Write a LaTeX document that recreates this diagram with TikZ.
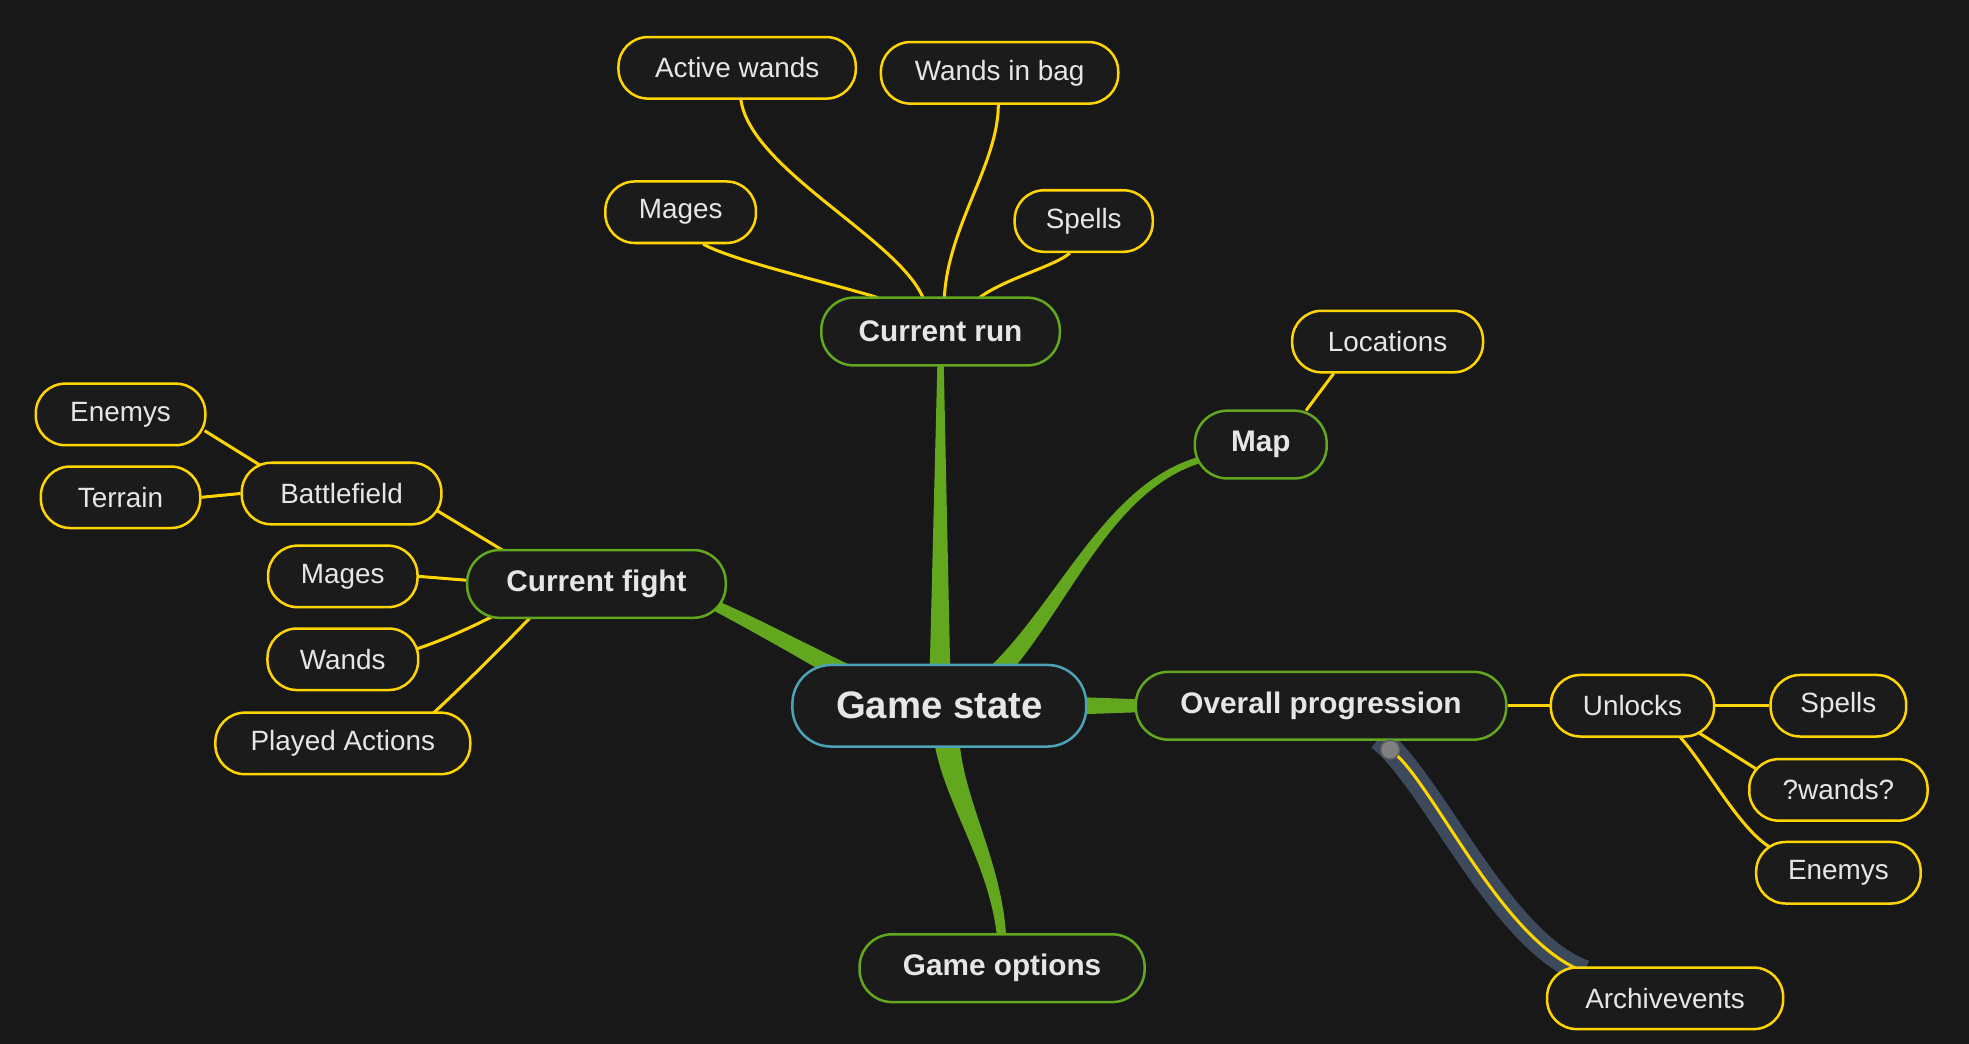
\documentclass[tikz,border=0pt]{standalone}
\usepackage{fontspec}
\setmainfont{Liberation Sans}
\usetikzlibrary{calc}
\definecolor{bgc}{HTML}{181818}
\definecolor{nodefill}{HTML}{1B1B1B}
\definecolor{txt}{HTML}{E6E6E6}
\definecolor{teal}{HTML}{4CA2B6}
\definecolor{grn}{HTML}{62A71E}
\definecolor{ylw}{HTML}{FFD500}
\definecolor{band}{HTML}{3D4A5B}
\definecolor{dotc}{HTML}{808080}
\definecolor{dotb}{HTML}{5E5E5E}
\pgfdeclarelayer{bglayer}
\pgfdeclarelayer{linklayer}
\pgfsetlayers{bglayer,linklayer,main}
\begin{document}
\begin{tikzpicture}[x=1pt,y=-1pt,
  base/.style={draw, fill=nodefill, text=txt, inner sep=0pt, line width=2pt},
  rootnode/.style={base, draw=teal, rounded corners=31pt, minimum height=65pt, font=\fontsize{30.5}{34}\selectfont\bfseries},
  lone/.style={base, draw=grn, rounded corners=26pt, minimum height=54pt, font=\fontsize{23.7}{27}\selectfont\bfseries},
  ltwo/.style={base, draw=ylw, rounded corners=23.5pt, minimum height=49pt, font=\fontsize{22.2}{25}\selectfont},
  yline/.style={draw=ylw, line width=2.4pt},
  branch/.style={fill=grn},
]
\begin{pgfonlayer}{bglayer}
\fill[bgc] (0,0) rectangle (1568,831);
\end{pgfonlayer}
\useasboundingbox (0,0) rectangle (1568,831);

% ---- nodes ----
\node[rootnode, minimum width=234pt] (root) at (748,562) {Game state};
\node[lone, minimum width=190pt] (cr) at (749,264) {Current run};
\node[lone, minimum width=105pt] (map) at (1004,354) {Map};
\node[lone, minimum width=206pt] (cf) at (475,465) {Current fight};
\node[lone, minimum width=295pt] (op) at (1052,562) {Overall progression};
\node[lone, minimum width=227pt] (go) at (798,771) {Game options};

\node[ltwo, minimum width=120pt] (m1) at (542,169) {Mages};
\node[ltwo, minimum width=189pt] (aw) at (587,54) {Active wands};
\node[ltwo, minimum width=189pt] (wb) at (796,58) {Wands in bag};
\node[ltwo, minimum width=110pt] (sp1) at (863,176) {Spells};
\node[ltwo, minimum width=152pt] (loc) at (1105,272) {Locations};
\node[ltwo, minimum width=130pt] (unl) at (1300,562) {Unlocks};
\node[ltwo, minimum width=108pt] (sp2) at (1464,562) {Spells};
\node[ltwo, minimum width=142pt] (qw) at (1464,629) {?wands?};
\node[ltwo, minimum width=131pt] (en2) at (1464,695) {Enemys};
\node[ltwo, minimum width=188pt] (arc) at (1326,795) {Archivevents};
\node[ltwo, minimum width=159pt] (bf) at (272,393) {Battlefield};
\node[ltwo, minimum width=135pt] (en1) at (96,330) {Enemys};
\node[ltwo, minimum width=127pt] (ter) at (96,396) {Terrain};
\node[ltwo, minimum width=119pt] (m2) at (273,459) {Mages};
\node[ltwo, minimum width=120pt] (wd) at (273,525) {Wands};
\node[ltwo, minimum width=203pt] (pa) at (273,592) {Played Actions};

\node[circle, fill=dotc, draw=dotb, line width=1pt, minimum size=15pt, inner sep=0pt] (dot) at ($(op)+(55,35)$) {};

\begin{pgfonlayer}{linklayer}
% root -> current run
\fill[branch] ($(root)+(-8,-14)$) -- ($(cr)+(-2.5,24)$) -- ($(cr)+(2.5,24)$) -- ($(root)+(9,-14)$) -- cycle;
% root -> map
\fill[branch] ($(root)+(42.4,-11.2)$) .. controls (848.4,494.7) and (880.9,388.4) .. ($(map)+(-43.35,13.4)$)
  -- ($(map)+(-44.65,8.6)$) .. controls (879.1,381.6) and (841.6,485.3) .. ($(root)+(31.6,-22.8)$) -- cycle;
% root -> current fight
\fill[branch] ($(root)+(-64,-29)$) .. controls (640,512) and (605,493) .. ($(cf)+(91.6,11.4)$)
  -- ($(cf)+(88.4,18.6)$) .. controls (600,503) and (635,523) .. ($(root)+(-72,-15)$) -- cycle;
% root -> overall progression
\fill[branch] ($(root)+(107,-7)$) -- ($(op)+(-140,-5)$) -- ($(op)+(-140,5)$) -- ($(root)+(107,7)$) -- cycle;
% root -> game options
\fill[branch] ($(root)+(15.9,26.4)$) .. controls (767.4,638.8) and (800,689.75) .. ($(go)+(3.5,-19)$)
  -- ($(go)+(-3.5,-19)$) .. controls (790,690.25) and (752.6,641.2) .. ($(root)+(-3.9,29.6)$) -- cycle;

% archivevents band
\draw[band, line width=19pt] ($(op)+(46,26)$) .. controls (1140,620) and (1195,750) .. ($(arc)+(-64,-21)$);
\draw[yline] (dot.center) .. controls (1140,620) and (1195,750) .. ($(arc)+(-64,-21)$);

% yellow connectors
\draw[yline] ($(m1.south)+(18,0)$) .. controls (585,208) and (660,225) .. ($(cr.north)+(-50,1)$);
\draw[yline] ($(aw.south)+(3,0)$) .. controls (598,135) and (715,190) .. ($(cr.north)+(-14,1)$);
\draw[yline] ($(wb.south)+(-1,0)$) .. controls (795,130) and (755,180) .. ($(cr.north)+(3,1)$);
\draw[yline] ($(sp1.south)+(-11,0)$) .. controls (840,212) and (800,222) .. ($(cr.north)+(31,1)$);
\draw[yline] ($(map.north)+(36,1)$) -- ($(loc.south)+(-43,0)$);
\draw[yline] (op.east) -- (unl.west);
\draw[yline] (unl.east) -- (sp2.west);
\draw[yline] ($(unl)+(52,21)$) -- ($(qw)+(-66,-17)$);
\draw[yline] ($(unl)+(38,25)$) .. controls (1360,612) and (1385,660) .. ($(en2)+(-54,-20)$);
\draw[yline] ($(cf)+(-75,-27)$) -- ($(bf)+(75,13)$);
\draw[yline] ($(bf)+(-64,-22)$) -- ($(en1)+(67,13)$);
\draw[yline] (bf.west) -- (ter.east);
\draw[yline] ($(cf.west)+(0,-3)$) -- (m2.east);
\draw[yline] ($(cf)+(-83,26)$) .. controls (370,502) and (352,510) .. ($(wd)+(58,-8)$);
\draw[yline] ($(cf)+(-52,26)$) .. controls (400,515) and (375,540) .. ($(pa)+(72,-24)$);
\end{pgfonlayer}
\end{tikzpicture}
\end{document}
